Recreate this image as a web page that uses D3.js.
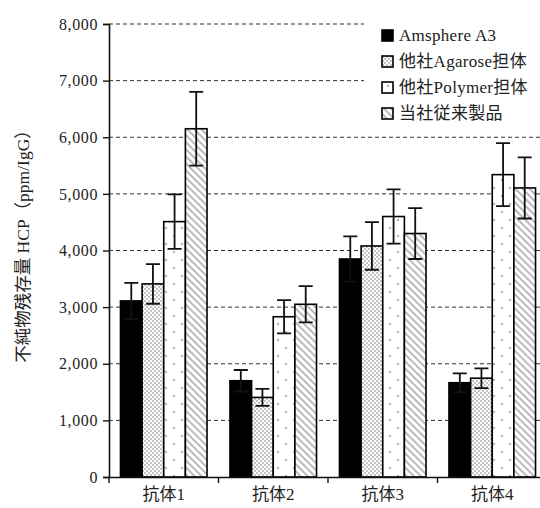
<!DOCTYPE html>
<html>
<head>
<meta charset="utf-8">
<script src="https://cdn.jsdelivr.net/npm/d3@7"></script>
<style>
  body { margin: 0; background: #fff; }
  svg text { font-family: "Liberation Serif", "DejaVu Serif", "Noto Sans CJK JP", serif; fill: #222; }
</style>
</head>
<body>
<div id="chart"></div>
<script>
const categories = ["抗体1", "抗体2", "抗体3", "抗体4"];
const seriesNames = ["Amsphere A3", "他社Agarose担体", "他社Polymer担体", "当社従来製品"];
const a3Values = [3110, 1700, 3850, 1665];
const a3Errors = [320, 190, 400, 165];
const agaroseValues = [3410, 1405, 4080, 1745];
const agaroseErrors = [350, 150, 420, 175];
const polymerValues = [4510, 2830, 4600, 5340];
const polymerErrors = [480, 295, 480, 555];
const ownValues = [6150, 3050, 4300, 5105];
const ownErrors = [650, 320, 450, 540];
const yTicks = [0, 1000, 2000, 3000, 4000, 5000, 6000, 7000, 8000];

const width = 540, height = 508;
const margin = { top: 24, right: -7, bottom: 31, left: 109 };

const series = [
  { name: seriesNames[0], values: a3Values, errors: a3Errors, fill: "#000" },
  { name: seriesNames[1], values: agaroseValues, errors: agaroseErrors, fill: "url(#checker)" },
  { name: seriesNames[2], values: polymerValues, errors: polymerErrors, fill: "url(#dots)" },
  { name: seriesNames[3], values: ownValues, errors: ownErrors, fill: "url(#hatch)" }
];

const svg = d3.select("#chart").append("svg")
  .attr("width", width)
  .attr("height", height);

// fill patterns
const defs = svg.append("defs");
const checker = defs.append("pattern").attr("id", "checker")
  .attr("patternUnits", "userSpaceOnUse").attr("width", 4).attr("height", 4);
checker.append("rect").attr("width", 4).attr("height", 4).attr("fill", "#fff");
checker.append("rect").attr("width", 2).attr("height", 2).attr("fill", "#c4c4c4");
checker.append("rect").attr("x", 2).attr("y", 2).attr("width", 2).attr("height", 2).attr("fill", "#c4c4c4");

const dots = defs.append("pattern").attr("id", "dots")
  .attr("patternUnits", "userSpaceOnUse").attr("width", 16).attr("height", 16);
dots.append("rect").attr("width", 16).attr("height", 16).attr("fill", "#fff");
dots.append("rect").attr("x", 5).attr("y", 3).attr("width", 2).attr("height", 2).attr("fill", "#b0b0b0");
dots.append("rect").attr("x", 13).attr("y", 11).attr("width", 2).attr("height", 2).attr("fill", "#b0b0b0");

const hatch = defs.append("pattern").attr("id", "hatch")
  .attr("patternUnits", "userSpaceOnUse").attr("width", 5).attr("height", 5)
  .attr("patternTransform", "rotate(-45)");
hatch.append("rect").attr("width", 5).attr("height", 5).attr("fill", "#fff");
hatch.append("rect").attr("width", 1.8).attr("height", 5).attr("fill", "#b4b4b4");

const x = d3.scaleBand()
  .domain(categories)
  .range([margin.left, width - margin.right])
  .paddingInner(0)
  .paddingOuter(0);

const inner = d3.scaleBand()
  .domain(seriesNames)
  .range([0, x.bandwidth()])
  .paddingOuter(0.53)
  .paddingInner(0);

const y = d3.scaleLinear()
  .domain([0, 8000])
  .range([height - margin.bottom, margin.top]);

// gridlines
svg.append("g")
  .selectAll("line")
  .data(yTicks.slice(1))
  .join("line")
  .attr("x1", margin.left)
  .attr("x2", width)
  .attr("y1", d => y(d))
  .attr("y2", d => y(d))
  .attr("stroke", "#333")
  .attr("stroke-width", 1)
  .attr("stroke-dasharray", "4,3");

// bars
const group = svg.append("g")
  .selectAll("g")
  .data(series)
  .join("g");

group.selectAll("rect")
  .data(s => s.values.map((v, i) => ({ s, v, e: s.errors[i], c: categories[i] })))
  .join("rect")
  .attr("x", d => x(d.c) + inner(d.s.name))
  .attr("y", d => y(d.v))
  .attr("width", inner.bandwidth())
  .attr("height", d => y(0) - y(d.v))
  .attr("fill", d => d.s.fill)
  .attr("stroke", "#000")
  .attr("stroke-width", 1.6);

// error bars
const capW = 7;
group.each(function (s) {
  const g = d3.select(this);
  const items = s.values.map((v, i) => ({ v, e: s.errors[i], cx: x(categories[i]) + inner(s.name) + inner.bandwidth() / 2 }));
  g.selectAll("path.err")
    .data(items)
    .join("path")
    .attr("class", "err")
    .attr("d", d => {
      const t = y(d.v + d.e), b = y(d.v - d.e);
      return `M${d.cx},${t}V${b}M${d.cx - capW},${t}H${d.cx + capW}M${d.cx - capW},${b}H${d.cx + capW}`;
    })
    .attr("fill", "none")
    .attr("stroke", "#111")
    .attr("stroke-width", 1.8);
});

// y axis
const yAxis = svg.append("g")
  .attr("transform", `translate(${margin.left},0)`)
  .call(d3.axisLeft(y).tickValues(yTicks).tickFormat(d3.format(",")).tickSize(6).tickPadding(5));
yAxis.select(".domain").attr("stroke", "#111").attr("stroke-width", 1.6);
yAxis.selectAll(".tick line").attr("stroke", "#111").attr("stroke-width", 1.4);
yAxis.selectAll(".tick text").style("font-size", "16px").style("letter-spacing", "0.6px").attr("fill", "#222");

// x axis
const xAxis = svg.append("g")
  .attr("transform", `translate(0,${y(0)})`)
  .call(d3.axisBottom(x).tickSize(0).tickPadding(11));
xAxis.select(".domain").attr("stroke", "#111").attr("stroke-width", 1.6);
xAxis.selectAll(".tick text").style("font-size", "17px").attr("fill", "#222");
xAxis.selectAll("line.sep")
  .data(categories)
  .join("line")
  .attr("class", "sep")
  .attr("x1", d => x(d))
  .attr("x2", d => x(d))
  .attr("y1", 0)
  .attr("y2", 6)
  .attr("stroke", "#111")
  .attr("stroke-width", 1.4);

// y label
svg.append("text")
  .attr("transform", `translate(23,242) rotate(-90)`)
  .attr("text-anchor", "middle")
  .attr("dy", "0.35em")
  .style("font-size", "17.5px")
  .text("不純物残存量 HCP（ppm/IgG）");

// legend
const legend = svg.append("g");
legend.append("rect")
  .attr("x", 364).attr("y", 16)
  .attr("width", 176).attr("height", 114)
  .attr("fill", "#fff");
const li = legend.selectAll("g")
  .data(series)
  .join("g")
  .attr("transform", (d, i) => `translate(382,${30 + i * 26})`);
li.append("rect")
  .attr("width", 11).attr("height", 11)
  .attr("fill", d => d.fill)
  .attr("stroke", "#000")
  .attr("stroke-width", 1.6);
li.append("text")
  .attr("x", 17)
  .attr("y", 11)
  .style("font-size", "17px")
  .style("letter-spacing", "0.3px")
  .text(d => d.name);
</script>
</body>
</html>
